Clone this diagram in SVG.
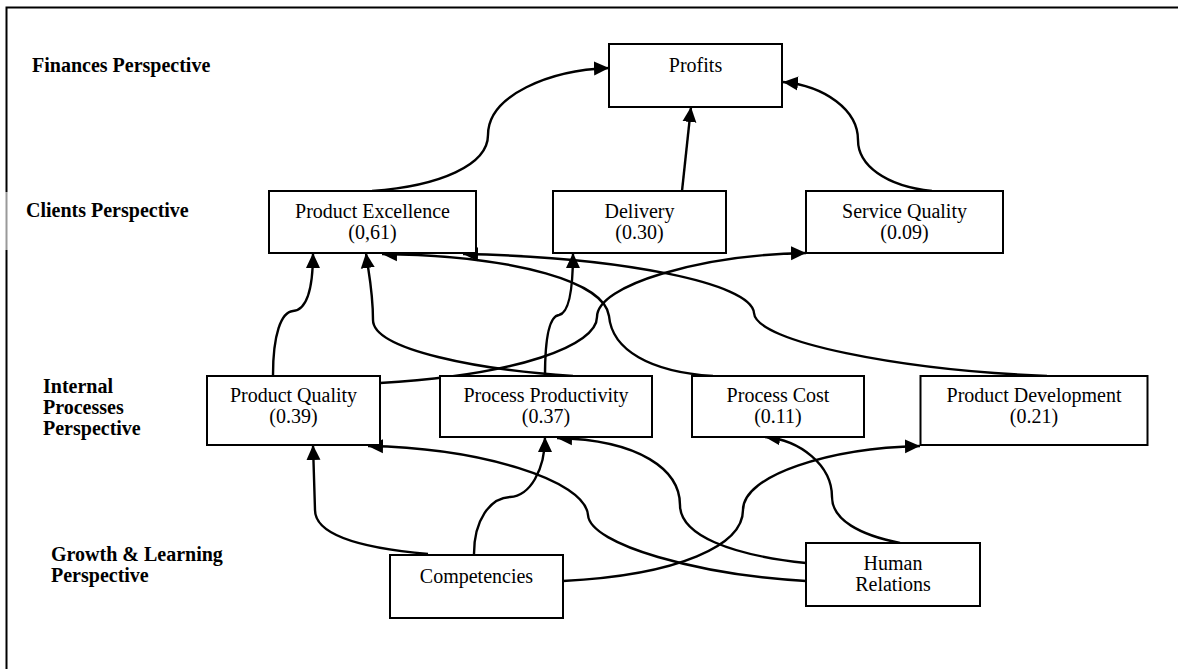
<svg xmlns="http://www.w3.org/2000/svg" width="1178" height="669" viewBox="0 0 1178 669">
  <style>
    .box { fill: #fff; stroke: #000; stroke-width: 2; }
    .lbl { font-family: "Liberation Serif", "Times New Roman", serif; font-size: 20px; fill: #000; text-anchor: middle; }
    .side { font-family: "Liberation Serif", "Times New Roman", serif; font-size: 20px; font-weight: bold; fill: #000; }
    .conn { fill: none; stroke: #000; stroke-width: 2.4; marker-end: url(#arrow); }
  </style>
  <defs>
    <marker id="arrow" markerUnits="userSpaceOnUse" markerWidth="17" markerHeight="16" viewBox="0 -8 17 16" refX="15" refY="0" orient="auto">
      <path d="M0,-7 L15,0 L0,7 Z" fill="#000"/>
    </marker>
  </defs>

  <rect width="1178" height="669" fill="#fff"/>

  <!-- outer frame -->
  <g id="frame" fill="none" stroke-width="2">
    <path d="M6.5,192 V7.5 H1178" stroke="#000"/>
    <path d="M6.5,192 V250" stroke="#999"/>
    <path d="M6.5,250 V669" stroke="#000"/>
  </g>

  <!-- perspective labels -->
  <g id="perspectives">
    <text class="side" x="32" y="72">Finances Perspective</text>
    <text class="side" x="26" y="217">Clients Perspective</text>
    <text class="side" x="43" y="393">Internal</text>
    <text class="side" x="43" y="414">Processes</text>
    <text class="side" x="43" y="435">Perspective</text>
    <text class="side" x="51" y="561">Growth &amp; Learning</text>
    <text class="side" x="51" y="582">Perspective</text>
  </g>

  <!-- connectors -->
  <g id="connectors">
    <!-- clients -> finances -->
    <path class="conn" d="M372,191 C440,186 488,165 488,135 C488,95 550,70 609,68"/>
    <path class="conn" d="M682,191 L691,107"/>
    <path class="conn" d="M932,191 C885,186 858,165 858,140 C858,110 825,86 783,82"/>
    <!-- internal -> clients -->
    <path class="conn" d="M273,375 C273,335 281,312 293,311 C306,310 313,290 313,253"/>
    <path class="conn" d="M573,376 C480,370 373,350 373,320 C373,290 368,270 366,253"/>
    <path class="conn" d="M713,376 C650,372 612,350 609,316 C605,283 520,256 382,254"/>
    <path class="conn" d="M1047,376 C900,370 756,342 754,313 C752,283 620,257 463,254"/>
    <path class="conn" d="M380,383 C520,375 597,345 597,317 C597,285 700,255 806,253"/>
    <path class="conn" d="M545,376 C545,338 549,316 559,315 C569,313 573,290 573,253"/>
    <!-- growth & learning -> internal -->
    <path class="conn" d="M428,554 C360,548 315,535 315,510 L313,445"/>
    <path class="conn" d="M474,554 C474,520 490,498 510,497 C530,496 545,470 545,437"/>
    <path class="conn" d="M806,581 C700,575 590,545 588,515 C585,480 480,448 368,446"/>
    <path class="conn" d="M806,563 C730,555 680,535 680,505 C680,470 640,440 557,438"/>
    <path class="conn" d="M900,543 C860,535 832,520 832,497 C832,465 800,440 765,437"/>
    <path class="conn" d="M563,581 C680,575 743,545 743,510 C743,475 830,448 920,446"/>
  </g>

  <!-- finances -->
  <g id="profits">
    <rect class="box" x="609" y="44" width="173" height="63"/>
    <text class="lbl" x="695.5" y="72">Profits</text>
  </g>

  <!-- clients -->
  <g id="product-excellence">
    <rect class="box" x="269" y="191" width="207" height="62"/>
    <text class="lbl" x="372.5" y="218">Product Excellence</text>
    <text class="lbl" x="372.5" y="239">(0,61)</text>
  </g>
  <g id="delivery">
    <rect class="box" x="553" y="191" width="173" height="62"/>
    <text class="lbl" x="639.5" y="218">Delivery</text>
    <text class="lbl" x="639.5" y="239">(0.30)</text>
  </g>
  <g id="service-quality">
    <rect class="box" x="806" y="191" width="197" height="62"/>
    <text class="lbl" x="904.5" y="218">Service Quality</text>
    <text class="lbl" x="904.5" y="239">(0.09)</text>
  </g>

  <!-- internal processes -->
  <g id="product-quality">
    <rect class="box" x="207" y="376" width="173" height="69"/>
    <text class="lbl" x="293.5" y="402">Product Quality</text>
    <text class="lbl" x="293.5" y="423">(0.39)</text>
  </g>
  <g id="process-productivity">
    <rect class="box" x="440" y="376" width="212" height="61"/>
    <text class="lbl" x="546" y="402">Process Productivity</text>
    <text class="lbl" x="546" y="423">(0.37)</text>
  </g>
  <g id="process-cost">
    <rect class="box" x="692" y="376" width="172" height="61"/>
    <text class="lbl" x="778" y="402">Process Cost</text>
    <text class="lbl" x="778" y="423">(0.11)</text>
  </g>
  <g id="product-development">
    <rect class="box" x="920.5" y="376" width="227" height="69"/>
    <text class="lbl" x="1034" y="402">Product Development</text>
    <text class="lbl" x="1034" y="423">(0.21)</text>
  </g>

  <!-- growth & learning -->
  <g id="competencies">
    <rect class="box" x="390" y="555" width="173" height="63"/>
    <text class="lbl" x="476.5" y="583">Competencies</text>
  </g>
  <g id="human-relations">
    <rect class="box" x="806" y="543" width="174" height="63"/>
    <text class="lbl" x="893" y="570">Human</text>
    <text class="lbl" x="893" y="591">Relations</text>
  </g>
</svg>
